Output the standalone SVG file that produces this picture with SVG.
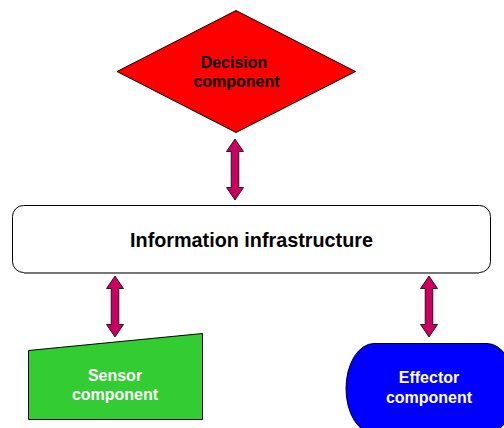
<svg xmlns="http://www.w3.org/2000/svg" width="504" height="428" viewBox="0 0 504 428">
<defs>
<style>
text{font-family:"Liberation Sans",Arial,sans-serif;font-weight:700;text-anchor:middle}
.s{font-size:16px}
.w{fill:#fff}
.shape{stroke:#000;stroke-width:1}
.arrow{fill:#c90060;stroke:#000;stroke-width:.8;stroke-linejoin:miter}
</style>
<path id="dbl" class="arrow" d="M0 0L8.500 12.500H3.800V48.500H8.500L0 61L-8.500 48.500H-3.800V12.500H-8.500Z"/>
</defs>
<rect width="504" height="428" fill="#fff"/>
<g id="decision">
<polygon class="shape" fill="#f00" points="236,10.500 355.500,71.500 236,132.500 117,71.500"/>
<text class="s" x="234" y="68">Decision</text>
<text class="s" x="236.500" y="87">component</text>
</g>
<g id="infrastructure">
<rect x="12.500" y="205.500" width="478" height="67" rx="11" fill="#fff" stroke="#000" stroke-width="1"/>
<path d="M24 273H479" fill="none" stroke="#777" stroke-width="2"/>
<text x="251.500" y="247" font-size="19.800">Information infrastructure</text>
</g>
<g id="sensor">
<polygon class="shape" fill="#33cc33" points="28.500,350.500 202.500,333.500 202.500,419.500 28.500,419.500"/>
<text class="s w" x="115" y="381">Sensor</text>
<text class="s w" x="115" y="400">component</text>
</g>
<g id="effector">
<path class="shape" fill="#00f" d="M374 343.500H487A28 45 0 0 1 515 388.500A28 45 0 0 1 487 433.500H374A28 45 0 0 1 346 388.500A28 45 0 0 1 374 343.500Z"/>
<text class="s w" x="429" y="383">Effector</text>
<text class="s w" x="429" y="403">component</text>
</g>
<g id="connectors">
<use href="#dbl" x="235" y="139"/>
<use href="#dbl" x="115" y="276"/>
<use href="#dbl" x="429" y="276"/>
</g>
</svg>
